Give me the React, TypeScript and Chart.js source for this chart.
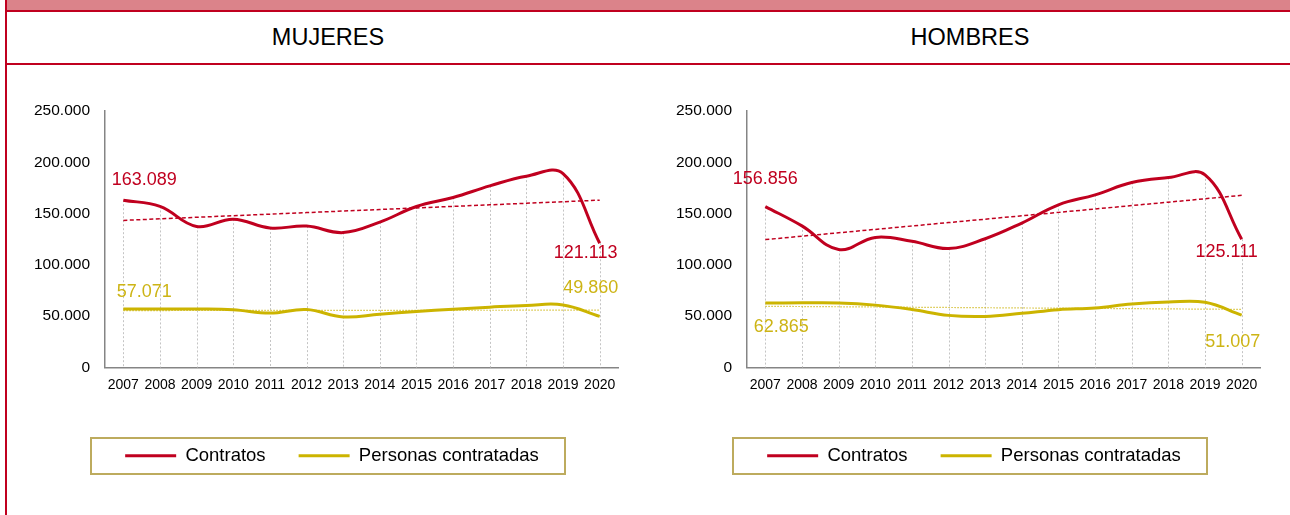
import React, { useEffect, useRef } from 'react';
import { Chart, registerables } from 'chart.js';

Chart.register(...registerables);

// ---------- DATA ----------
const years = ['2007', '2008', '2009', '2010', '2011', '2012', '2013', '2014', '2015', '2016', '2017', '2018', '2019', '2020'];

const mujeresContratos = [163089, 157000, 137500, 144600, 136000, 137800, 131500, 141700, 156900, 165700, 177000, 186500, 189000, 121113];
const mujeresPersonas = [57071, 57000, 57000, 56400, 53000, 56500, 49300, 52000, 54500, 56800, 58800, 60500, 61000, 49860];

const hombresContratos = [156856, 138000, 115000, 126800, 123000, 116000, 125500, 140800, 158600, 168300, 180300, 185100, 187700, 125111];
const hombresPersonas = [62865, 63000, 62900, 60800, 56500, 50800, 49800, 52800, 56400, 58000, 62000, 63800, 63500, 51007];

const yTicks = [0, 50000, 100000, 150000, 200000, 250000];
const seriesNames = ['Contratos', 'Personas contratadas'];
const panelTitles = ['MUJERES', 'HOMBRES'];

// ---------- STYLE ----------
const RED = '#C0001F';
const GOLD = '#CCB400';
const GOLD_LABEL = '#CDB415';
const PINK = '#DB838A';
const FONT = '"Liberation Sans", Arial, Helvetica, sans-serif';

function fmt(v: number): string {
  return Math.round(v).toString().replace(/\B(?=(\d{3})+(?!\d))/g, '.');
}

// least-squares linear trendline (as Excel's linear trendline)
function trend(vals: number[]): number[] {
  const n = vals.length;
  const mx = (n - 1) / 2;
  const my = vals.reduce((a, b) => a + b, 0) / n;
  let sxy = 0;
  let sxx = 0;
  vals.forEach((v, i) => {
    sxy += (i - mx) * (v - my);
    sxx += (i - mx) * (i - mx);
  });
  const b = sxy / sxx;
  return vals.map((_, i) => my + b * (i - mx));
}

type LabelSpec = { ds: number; idx: number; dx: number; dy: number; color: string };

function makePlugins(specs: LabelSpec[]) {
  const legendShift = {
    id: 'legendShift',
    afterLayout(chart: any) {
      const lg = chart.legend;
      if (!lg) return;
      lg.left += 19;
      lg.right += 19;
    },
  };
  const dropLines = {
    id: 'dropLines',
    beforeDatasetsDraw(chart: any) {
      const ctx = chart.ctx;
      const m0 = chart.getDatasetMeta(0);
      const m1 = chart.getDatasetMeta(1);
      const bottom = chart.chartArea.bottom;
      ctx.save();
      ctx.strokeStyle = '#C4C4C4';
      ctx.lineWidth = 1;
      ctx.setLineDash([2, 2]);
      m0.data.forEach((pt: any, i: number) => {
        const y = Math.min(pt.y, m1.data[i].y);
        const x = Math.round(pt.x) + 0.5;
        ctx.beginPath();
        ctx.moveTo(x, y);
        ctx.lineTo(x, bottom);
        ctx.stroke();
      });
      ctx.restore();
    },
  };
  const endLabels = {
    id: 'endLabels',
    afterDatasetsDraw(chart: any) {
      const ctx = chart.ctx;
      ctx.save();
      ctx.font = `18px ${FONT}`;
      ctx.textAlign = 'center';
      ctx.textBaseline = 'middle';
      specs.forEach((s) => {
        const pt = chart.getDatasetMeta(s.ds).data[s.idx];
        const v = chart.data.datasets[s.ds].data[s.idx] as number;
        ctx.fillStyle = s.color;
        ctx.fillText(fmt(v), pt.x + s.dx, pt.y + s.dy);
      });
      ctx.restore();
    },
  };
  const legendBox = {
    id: 'legendBox',
    afterDraw(chart: any) {
      const lg = chart.legend;
      if (!lg || !lg.legendHitBoxes || !lg.legendHitBoxes.length) return;
      const hb = lg.legendHitBoxes;
      const first = hb[0];
      const last = hb[hb.length - 1];
      const left = first.left - 34;
      const right = last.left + last.width + 26;
      const cy = first.top + first.height / 2;
      const ctx = chart.ctx;
      ctx.save();
      ctx.strokeStyle = '#BDAB5E';
      ctx.lineWidth = 2;
      ctx.strokeRect(Math.round(left), Math.round(cy - 18), Math.round(right - left), 36);
      ctx.restore();
    },
  };
  return [legendShift, dropLines, endLabels, legendBox];
}

function Panel({ contratos, personas, specs }: { contratos: number[]; personas: number[]; specs: LabelSpec[] }) {
  const ref = useRef<HTMLCanvasElement | null>(null);
  useEffect(() => {
    if (!ref.current) return;
    const chart = new Chart(ref.current, {
      type: 'line',
      data: {
        labels: years,
        datasets: [
          {
            label: seriesNames[0],
            data: contratos,
            borderColor: RED,
            backgroundColor: RED,
            borderWidth: 3,
            pointRadius: 0,
            tension: 0.4,
            order: 1,
          },
          {
            label: seriesNames[1],
            data: personas,
            borderColor: GOLD,
            backgroundColor: GOLD,
            borderWidth: 3,
            pointRadius: 0,
            tension: 0.4,
            order: 2,
          },
          {
            label: 'trend-c',
            data: trend(contratos),
            borderColor: RED,
            borderWidth: 1.5,
            borderDash: [4, 2.5],
            pointRadius: 0,
            tension: 0,
            order: 0,
          },
          {
            label: 'trend-p',
            data: trend(personas),
            borderColor: '#D6C23C',
            borderWidth: 1.2,
            borderDash: [1.5, 1.5],
            pointRadius: 0,
            tension: 0,
            order: 3,
          },
        ],
      },
      options: {
        responsive: false,
        animation: false,
        devicePixelRatio: 1,
        layout: { padding: { left: 0, right: 30, top: 45, bottom: 40 } },
        font: { family: FONT },
        scales: {
          x: {
            type: 'category',
            offset: true,
            grid: { display: false, drawTicks: false },
            border: { display: true, color: '#858585', width: 1.5 },
            ticks: {
              color: '#000',
              font: { family: FONT, size: 14 },
              padding: 9,
              autoSkip: false,
              maxRotation: 0,
              minRotation: 0,
            },
            afterFit: (s: any) => {
              s.height = 46;
            },
          },
          y: {
            min: 0,
            max: 250000,
            afterBuildTicks: (s: any) => {
              s.ticks = yTicks.map((v) => ({ value: v }));
            },
            grid: { display: false, drawTicks: false },
            border: { display: true, color: '#858585', width: 1.5 },
            ticks: {
              color: '#000',
              font: { family: FONT, size: 15.5 },
              padding: 15,
              callback: (v: any) => fmt(Number(v)),
            },
            afterFit: (s: any) => {
              s.width = 97;
            },
          },
        },
        plugins: {
          legend: {
            display: true,
            position: 'bottom',
            labels: {
              color: '#000',
              font: { family: FONT, size: 18.5 },
              boxWidth: 51,
              boxHeight: 3,
              padding: 33,
              generateLabels: (ch: any) =>
                ch.data.datasets.slice(0, 2).map((ds: any, i: number) => ({
                  text: ds.label,
                  fillStyle: ds.borderColor,
                  strokeStyle: ds.borderColor,
                  lineWidth: 0,
                  hidden: false,
                  datasetIndex: i,
                  fontColor: '#000',
                })),
            },
          },
          tooltip: { enabled: false },
        },
      } as any,
      plugins: makePlugins(specs) as any,
    });
    return () => chart.destroy();
  }, [contratos, personas, specs]);
  return <canvas ref={ref} width={640} height={449} style={{ width: 640, height: 449, display: 'block' }} />;
}

const mujeresSpecs: LabelSpec[] = [
  { ds: 0, idx: 0, dx: 21, dy: -20, color: RED },
  { ds: 1, idx: 0, dx: 21, dy: -17, color: GOLD_LABEL },
  { ds: 0, idx: 13, dx: -14, dy: 10, color: RED },
  { ds: 1, idx: 13, dx: -9, dy: -28, color: GOLD_LABEL },
];
const hombresSpecs: LabelSpec[] = [
  { ds: 0, idx: 0, dx: 0, dy: -28, color: RED },
  { ds: 1, idx: 0, dx: 16, dy: 24, color: GOLD_LABEL },
  { ds: 0, idx: 13, dx: -15, dy: 13, color: RED },
  { ds: 1, idx: 13, dx: -9, dy: 27, color: GOLD_LABEL },
];

export default function App() {
  const titleStyle = (left: number, width: number): React.CSSProperties => ({
    position: 'absolute',
    left,
    width,
    top: 12,
    height: 51,
    display: 'flex',
    alignItems: 'center',
    justifyContent: 'center',
    fontSize: 23.5,
    color: '#000',
    fontFamily: FONT,
  });
  return (
    <div
      style={{
        position: 'fixed',
        left: 0,
        top: 0,
        width: 1290,
        height: 515,
        background: '#fff',
        overflow: 'hidden',
        fontFamily: FONT,
      }}
    >
      <div style={{ position: 'absolute', left: 7, top: 0, width: 1283, height: 10, background: PINK }} />
      <div style={{ position: 'absolute', left: 5, top: 10, width: 1285, height: 2, background: RED }} />
      <div style={{ position: 'absolute', left: 5, top: 63, width: 1285, height: 2, background: RED }} />
      <div style={{ position: 'absolute', left: 5, top: 0, width: 2, height: 515, background: RED }} />
      <div style={titleStyle(7, 642)}>{panelTitles[0]}</div>
      <div style={titleStyle(650, 640)}>{panelTitles[1]}</div>
      <div style={{ position: 'absolute', left: 8, top: 66 }}>
        <Panel contratos={mujeresContratos} personas={mujeresPersonas} specs={mujeresSpecs} />
      </div>
      <div style={{ position: 'absolute', left: 650, top: 66 }}>
        <Panel contratos={hombresContratos} personas={hombresPersonas} specs={hombresSpecs} />
      </div>
    </div>
  );
}
